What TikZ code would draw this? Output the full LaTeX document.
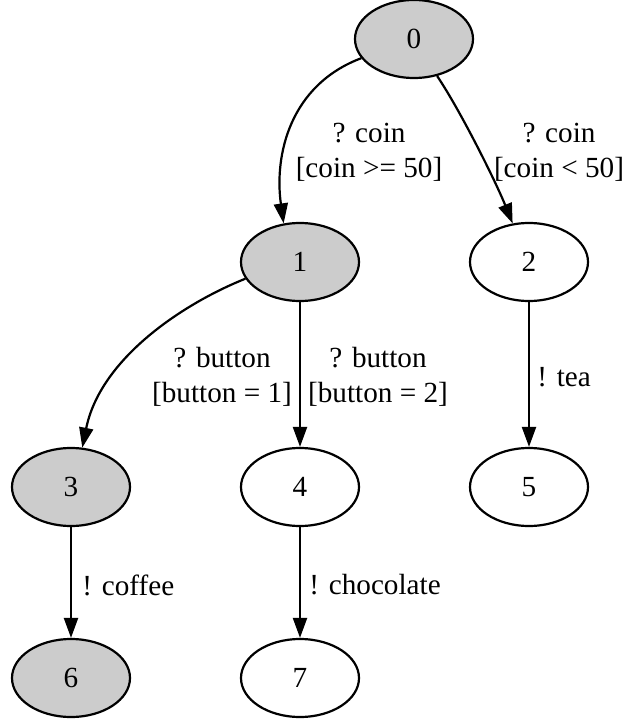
\documentclass[tikz,border=0pt]{standalone}
\usepackage{fontspec}
\setmainfont{Liberation Serif}
\usetikzlibrary{arrows.meta}
\usetikzlibrary{shapes.geometric}

\begin{document}
\begin{tikzpicture}[x=0.5pt, y=-0.5pt]
\tikzset{state/.style = {ellipse, draw, line width=1.1pt, minimum width=59pt, minimum height=39pt, inner sep=0pt, font=\fontsize{14.6}{17.5}\selectfont}}
\tikzset{edge/.style = {-{Triangle[length=10pt, width=7pt]}, line width=1.1pt}}
\tikzset{lbl/.style = {align=center, inner sep=0pt, font=\fontsize{14.6}{17.5}\selectfont}}

\useasboundingbox (0,0) rectangle (629,722);

% states
\foreach \n/\x/\y in {0/414/39, 1/300/262, 3/71/487, 6/71/678}
  {\node[state, fill=gray!40] (s\n) at (\x, \y) {\n};}
\foreach \n/\x/\y in {2/529/262, 4/300/487, 5/529/487, 7/300/678}
  {\node[state] (s\n) at (\x, \y) {\n};}

% transitions
\draw[edge] (s0.200) .. controls (290,85) and (274,155) .. (s1.113);
\draw[edge] (s0.302) .. controls (460,110) and (495,180) .. (s2.113);
\draw[edge] (s1.197) .. controls (180,305) and (100,360) .. (s3.74);
\foreach \a/\b in {1/4, 2/5, 3/6, 4/7}
  {\draw[edge] (s\a) -- (s\b);}

% labels
\node[lbl] (l01) at (369, 152) {? coin\\{}[coin >= 50]};
\node[lbl] (l02) at (559, 152) {? coin\\{}[coin < 50]};
\node[lbl] (l13) at (222, 377) {? button\\{}[button = 1]};
\node[lbl] (l14) at (378, 377) {? button\\{}[button = 2]};
\node[lbl, anchor=west] (l25) at (537, 377) {! tea};
\node[lbl, anchor=west] (l36) at (82, 585) {! coffee};
\node[lbl, anchor=west] (l47) at (309, 585) {! chocolate};

\end{tikzpicture}
\end{document}
